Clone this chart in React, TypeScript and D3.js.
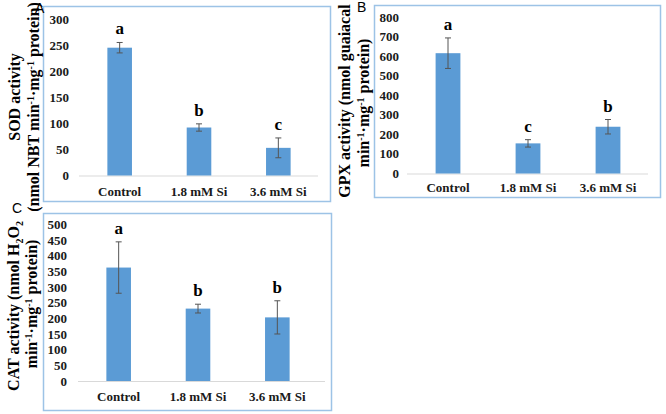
import React from "react";
import * as d3 from "d3";

const categories = ["Control", "1.8 mM Si", "3.6 mM Si"];

const sodMean = [245, 92, 53];
const sodErr = [10, 7, 19];
const sodLetters = ["a", "b", "c"];
const sodTicks = [0, 50, 100, 150, 200, 250, 300];

const gpxMean = [615, 154, 239];
const gpxErr = [78, 19, 37];
const gpxLetters = ["a", "c", "b"];
const gpxTicks = [0, 100, 200, 300, 400, 500, 600, 700, 800];

const catMean = [362, 231, 203];
const catErr = [82, 14, 53];
const catLetters = ["a", "b", "b"];
const catTicks = [0, 50, 100, 150, 200, 250, 300, 350, 400, 450, 500];

const SERIF = "'Liberation Serif', 'Times New Roman', serif";
const SANS = "'Liberation Sans', Arial, sans-serif";
const BAR = "#5b9bd5";
const BORDER = "#9dc3e6";

type PanelProps = {
  mean: number[];
  err: number[];
  letters: string[];
  ticks: number[];
  box: [number, number, number, number];
  xr: [number, number];
  yr: [number, number];
  axisEnd: number;
  tickX: number;
  catY: number;
  labelFont: number;
  labelCenterY: number[];
  labelX: [number, number];
  line1: React.ReactNode;
  line2: React.ReactNode;
  tag: string;
  tagPos: [number, number];
};

function Sup({ t, after }: { t: string; after: string }) {
  return (
    <>
      <tspan dy={-5} fontSize={10}>
        {t}
      </tspan>
      <tspan dy={5}>{after}</tspan>
    </>
  );
}
function Sub({ t, after }: { t: string; after: string }) {
  return (
    <>
      <tspan dy={4} fontSize={10}>
        {t}
      </tspan>
      <tspan dy={-4}>{after}</tspan>
    </>
  );
}

function Panel(p: PanelProps) {
  const x = d3.scaleBand<string>().domain(categories).range(p.xr).paddingInner(0.69).paddingOuter(0.345);
  const y = d3.scaleLinear().domain([p.ticks[0], p.ticks[p.ticks.length - 1]]).range(p.yr);
  const [bx, by, bw, bh] = p.box;
  return (
    <g>
      <rect x={bx + 0.5} y={by + 0.5} width={bw} height={bh} fill="#fff" stroke={BORDER} strokeWidth={1.5} />
      {p.ticks.map((t) => (
        <text key={t} x={p.tickX} y={y(t)} dy="0.35em" textAnchor="end" fontFamily={SERIF} fontWeight="bold" fontSize={13} fill="#1a1a1a">
          {t}
        </text>
      ))}
      <line x1={p.xr[0] - 1} x2={p.axisEnd} y1={p.yr[0] + 0.5} y2={p.yr[0] + 0.5} stroke="#d9d9d9" strokeWidth={1} />
      {categories.map((c, i) => {
        const x0 = x(c)!;
        const cx = x0 + x.bandwidth() / 2;
        const top = y(p.mean[i] + p.err[i]);
        const bot = y(p.mean[i] - p.err[i]);
        return (
          <g key={c}>
            <rect x={x0} y={y(p.mean[i])} width={x.bandwidth()} height={y(0) - y(p.mean[i])} fill={BAR} />
            <line x1={cx} x2={cx} y1={top} y2={bot} stroke="#555" strokeWidth={1} />
            <line x1={cx - 3} x2={cx + 3} y1={top} y2={top} stroke="#555" strokeWidth={1} />
            <line x1={cx - 3} x2={cx + 3} y1={bot} y2={bot} stroke="#555" strokeWidth={1} />
            <text x={cx} y={top - 8} textAnchor="middle" fontFamily={SERIF} fontWeight="bold" fontSize={17} fill="#000">
              {p.letters[i]}
            </text>
            <text x={cx} y={p.catY} textAnchor="middle" fontFamily={SERIF} fontWeight="bold" fontSize={13} fill="#1a1a1a">
              {c}
            </text>
          </g>
        );
      })}
      <text
        transform={`translate(${p.labelX[0]},${p.labelCenterY[0]}) rotate(-90)`}
        textAnchor="middle"
        fontFamily={SERIF}
        fontWeight="bold"
        fontSize={p.labelFont}
        fill="#000"
      >
        {p.line1}
      </text>
      <text
        transform={`translate(${p.labelX[1]},${p.labelCenterY[1]}) rotate(-90)`}
        textAnchor="middle"
        fontFamily={SERIF}
        fontWeight="bold"
        fontSize={p.labelFont}
        fill="#000"
      >
        {p.line2}
      </text>
      <text x={p.tagPos[0]} y={p.tagPos[1]} fontFamily={SANS} fontSize={14} fill="#000">
        {p.tag}
      </text>
    </g>
  );
}

const minMg = (
  <>
    <tspan>min</tspan>
    <Sup t="-1" after="·mg" />
    <Sup t="-1" after=" protein)" />
  </>
);

export default function App() {
  return (
    <svg width={666} height={414} style={{ position: "absolute", left: 0, top: 0, background: "#fff" }}>
      <rect width={666} height={414} fill="#fff" />
      <Panel
        mean={sodMean}
        err={sodErr}
        letters={sodLetters}
        ticks={sodTicks}
        box={[43, 6, 287, 195]}
        xr={[80, 318]}
        yr={[175.5, 19]}
        axisEnd={318}
        tickX={69}
        catY={196}
        labelFont={16}
        labelCenterY={[97, 107]}
        labelX={[20, 39]}
        line1={<tspan>SOD activity</tspan>}
        line2={
          <>
            <tspan>(nmol NBT min</tspan>
            <Sup t="-1" after="·mg" />
            <Sup t="-1" after=" protein)" />
          </>
        }
        tag="A"
        tagPos={[35, 13]}
      />
      <Panel
        mean={gpxMean}
        err={gpxErr}
        letters={gpxLetters}
        ticks={gpxTicks}
        box={[374, 5, 286, 192]}
        xr={[408, 648]}
        yr={[173.5, 17]}
        axisEnd={648}
        tickX={399}
        catY={192}
        labelFont={16}
        labelCenterY={[101, 103]}
        labelX={[350, 369]}
        line1={<tspan>GPX activity (nmol guaiacal</tspan>}
        line2={minMg}
        tag="B"
        tagPos={[357, 12]}
      />
      <Panel
        mean={catMean}
        err={catErr}
        letters={catLetters}
        ticks={catTicks}
        box={[43, 213, 288, 197]}
        xr={[79, 317]}
        yr={[381, 224.3]}
        axisEnd={325}
        tickX={67}
        catY={401}
        labelFont={16}
        labelCenterY={[306, 304]}
        labelX={[19, 37]}
        line1={
          <>
            <tspan>CAT activity (nmol H</tspan>
            <Sub t="2" after="O" />
            <tspan dy={4} fontSize={10}>
              2
            </tspan>
          </>
        }
        line2={minMg}
        tag="C"
        tagPos={[12, 213]}
      />
    </svg>
  );
}
